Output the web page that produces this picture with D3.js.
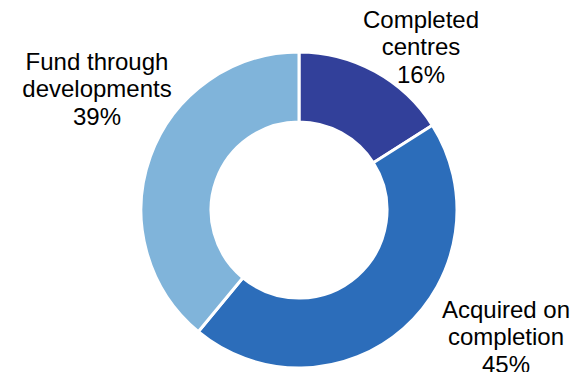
<!DOCTYPE html>
<html>
<head>
<meta charset="utf-8">
<script src="https://cdn.jsdelivr.net/npm/d3@7"></script>
<style>
  html, body { margin: 0; padding: 0; background: #ffffff; }
  svg { display: block; }
  text { font-family: "Liberation Sans", Arial, sans-serif; fill: #000; }
</style>
</head>
<body>
<svg id="chart" width="573" height="372"></svg>
<script>
// Data
const categories = ["Completed centres", "Acquired on completion", "Fund through developments"];
const labelLines = [["Completed", "centres"], ["Acquired on", "completion"], ["Fund through", "developments"]];
const values = [16, 45, 39];
const colors = ["#32409A", "#2C6DBA", "#80B4DA"];

// Layout
const cx = 299, cy = 210, outerR = 158, innerR = 88;
const fontSize = 24, lineH = 27.5;
// label block centres (middle line), relative to the donut centre
const labelPos = [[122, -163], [207, 127], [-202, -121]];

const svg = d3.select("#chart");
const g = svg.append("g").attr("transform", `translate(${cx},${cy})`);

const data = categories.map((c, i) => ({ name: c, lines: labelLines[i], value: values[i], color: colors[i] }));
const pie = d3.pie().value(d => d.value).sort(null).startAngle(0).endAngle(2 * Math.PI);
const arc = d3.arc().innerRadius(innerR).outerRadius(outerR);
const arcs = pie(data);

g.selectAll("path.slice").data(arcs).join("path")
  .attr("class", "slice")
  .attr("d", arc)
  .attr("fill", d => d.data.color)
  .attr("stroke", "#fff")
  .attr("stroke-width", 3)
  .attr("stroke-linejoin", "miter");

const lab = g.selectAll("text.lab").data(arcs).join("text")
  .attr("class", "lab")
  .attr("text-anchor", "middle")
  .attr("font-size", fontSize);

lab.each(function(d, i) {
  const [bx, by] = labelPos[i];
  const t = d3.select(this);
  const lines = d.data.lines.concat([d.data.value + "%"]);
  const y0 = by - (lines.length - 1) * lineH / 2;
  lines.forEach((ln, k) => {
    t.append("tspan").attr("x", bx).attr("y", y0 + k * lineH).attr("dy", "0.35em").text(ln);
  });
});
</script>
</body>
</html>
